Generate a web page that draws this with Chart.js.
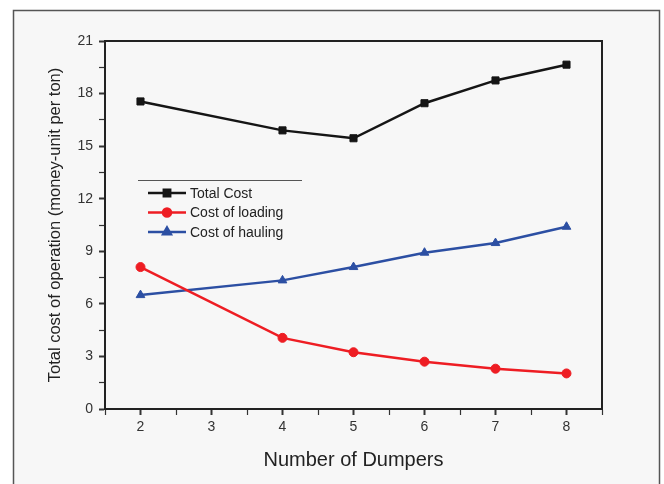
<!DOCTYPE html>
<html>
<head>
<meta charset="utf-8">
<script src="https://cdn.jsdelivr.net/npm/chart.js@4"></script>
<style>
  html, body { margin: 0; padding: 0; background: #fff; }
  #wrap { width: 664px; height: 484px; }
</style>
</head>
<body>
<div id="wrap"><canvas id="chart" width="664" height="484"></canvas></div>
<script>
// values
var dumpers = [2, 4, 5, 6, 7, 8];
var totalCost = [17.55, 15.9, 15.45, 17.45, 18.75, 19.65];
var loadingCost = [8.1, 4.06, 3.24, 2.7, 2.3, 2.03];
var haulingCost = [6.5, 7.34, 8.1, 8.92, 9.47, 10.4];
var seriesLabels = ['Total Cost', 'Cost of loading', 'Cost of hauling'];
var xTickLabels = [2, 3, 4, 5, 6, 7, 8];
var yTickLabels = [0, 3, 6, 9, 12, 15, 18, 21];

function toPoints(xs, ys) {
    return xs.map(function(x, i) { return { x: x, y: ys[i] }; });
}

// page frame and light background
var framePlugin = {
    id: 'frame',
    beforeDraw: function(chart) {
        var ctx = chart.ctx;
        ctx.save();
        ctx.fillStyle = '#ffffff';
        ctx.fillRect(0, 0, chart.width, chart.height);
        ctx.fillStyle = '#f7f7f7';
        ctx.fillRect(13, 10, 647, 480);
        ctx.strokeStyle = '#555';
        ctx.lineWidth = 1.5;
        ctx.strokeRect(13.5, 10.5, 646, 480);
        ctx.restore();
    },
    afterDatasetsDraw: function(chart) {
        // box around the plot area
        var a = chart.chartArea, ctx = chart.ctx;
        ctx.save();
        ctx.strokeStyle = '#222';
        ctx.lineWidth = 2;
        ctx.strokeRect(a.left, a.top, a.right - a.left, a.bottom - a.top);
        ctx.restore();
    }
};

// legend drawn inside the plot, Origin-style
var insideLegend = {
    id: 'insideLegend',
    afterDraw: function(chart) {
        var ctx = chart.ctx;
        ctx.save();
        ctx.strokeStyle = '#555';
        ctx.lineWidth = 1;
        ctx.beginPath();
        ctx.moveTo(138, 180.5);
        ctx.lineTo(302, 180.5);
        ctx.stroke();
        ctx.font = '14px "Liberation Sans", Arial, sans-serif';
        ctx.textBaseline = 'middle';
        chart.data.datasets.forEach(function(ds, i) {
            var y = 193 + i * 19.5;
            ctx.strokeStyle = ds.borderColor;
            ctx.lineWidth = 2.5;
            ctx.beginPath();
            ctx.moveTo(148, y);
            ctx.lineTo(186, y);
            ctx.stroke();
            ctx.fillStyle = ds.pointBackgroundColor;
            ctx.strokeStyle = ds.borderColor;
            Chart.helpers.drawPoint(ctx, {
                pointStyle: ds.pointStyle,
                radius: ds.pointRadius - 0.5,
                rotation: 0,
                borderWidth: 1
            }, 167, y);
            ctx.fillStyle = '#222';
            ctx.fillText(ds.label, 190, y + 1);
        });
        ctx.restore();
    }
};

var ctx = document.getElementById('chart').getContext('2d');
new Chart(ctx, {
    type: 'line',
    data: {
        datasets: [{
            label: seriesLabels[0],
            data: toPoints(dumpers, totalCost),
            borderColor: '#151515',
            backgroundColor: '#151515',
            pointBackgroundColor: '#151515',
            pointStyle: 'rect',
            pointRadius: 5,
            pointBorderWidth: 1,
            borderWidth: 2.5
        }, {
            label: seriesLabels[1],
            data: toPoints(dumpers, loadingCost),
            borderColor: '#ee1d23',
            backgroundColor: '#ee1d23',
            pointBackgroundColor: '#ee1d23',
            pointStyle: 'circle',
            pointRadius: 4.5,
            pointBorderWidth: 1,
            borderWidth: 2.5
        }, {
            label: seriesLabels[2],
            data: toPoints(dumpers, haulingCost),
            borderColor: '#2c4fa3',
            backgroundColor: '#2c4fa3',
            pointBackgroundColor: '#2c4fa3',
            pointStyle: 'triangle',
            pointRadius: 5,
            pointBorderWidth: 1,
            borderWidth: 2.5
        }]
    },
    options: {
        responsive: false,
        animation: false,
        layout: { padding: { top: 41, right: 62, left: 20, bottom: 0 } },
        plugins: {
            legend: { display: false },
            tooltip: { enabled: false }
        },
        scales: {
            x: {
                type: 'linear',
                min: 1.5,
                max: 8.5,
                afterFit: function(s) { s.height = 75; },
                ticks: {
                    stepSize: 0.5,
                    autoSkip: false,
                    maxRotation: 0,
                    padding: 4,
                    color: '#333',
                    font: { family: '"Liberation Sans", Arial, sans-serif', size: 14 },
                    callback: function(v) { return xTickLabels.indexOf(v) >= 0 ? String(v) : ''; }
                },
                grid: {
                    drawOnChartArea: false,
                    tickLength: 6,
                    tickColor: '#333',
                    tickWidth: function(c) { return Number.isInteger(c.tick.value) ? 2 : 1.2; }
                },
                border: { color: '#222', width: 2 },
                title: {
                    display: true,
                    text: 'Number of Dumpers',
                    color: '#222',
                    font: { family: '"Liberation Sans", Arial, sans-serif', size: 20 },
                    padding: { top: 0, bottom: 12 }
                }
            },
            y: {
                min: 0,
                max: 21,
                afterFit: function(s) { s.width = 85; },
                ticks: {
                    stepSize: 1.5,
                    autoSkip: false,
                    padding: 6,
                    color: '#333',
                    font: { family: '"Liberation Sans", Arial, sans-serif', size: 14 },
                    callback: function(v) { return yTickLabels.indexOf(v) >= 0 ? String(v) : ''; }
                },
                grid: {
                    drawOnChartArea: false,
                    tickLength: 6,
                    tickColor: '#333',
                    tickWidth: function(c) { return c.tick.value % 3 === 0 ? 2 : 1.2; }
                },
                border: { color: '#222', width: 2 },
                title: {
                    display: true,
                    text: 'Total cost of operation (money-unit per ton)',
                    color: '#222',
                    font: { family: '"Liberation Sans", Arial, sans-serif', size: 16.5 },
                    padding: { top: 26, bottom: 0 }
                }
            }
        }
    },
    plugins: [framePlugin, insideLegend]
});
</script>
</body>
</html>
